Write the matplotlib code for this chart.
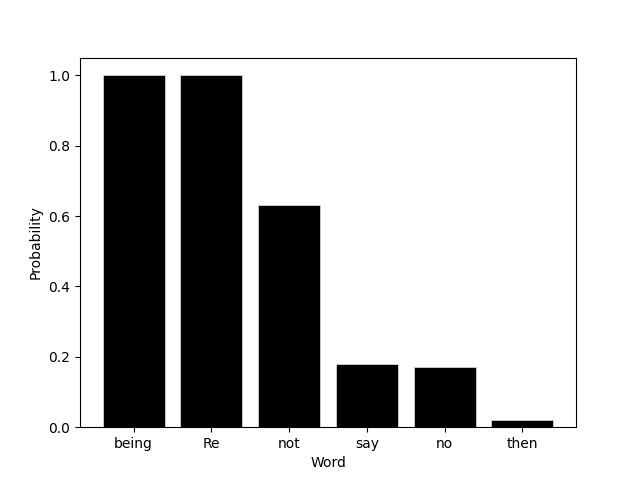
import matplotlib
matplotlib.use("Agg")
import matplotlib.pyplot as plt

words = ["being", "Re", "not", "say", "no", "then"]
probs = [1.0, 1.0, 0.63, 0.18, 0.17, 0.02]

fig, ax = plt.subplots(figsize=(6.4, 4.8), dpi=100)
ax.bar(words, probs, color="black", edgecolor="lightgray", linewidth=0.6)
ax.set_xlabel("Word")
ax.set_ylabel("Probability")
fig.savefig("out.png")
